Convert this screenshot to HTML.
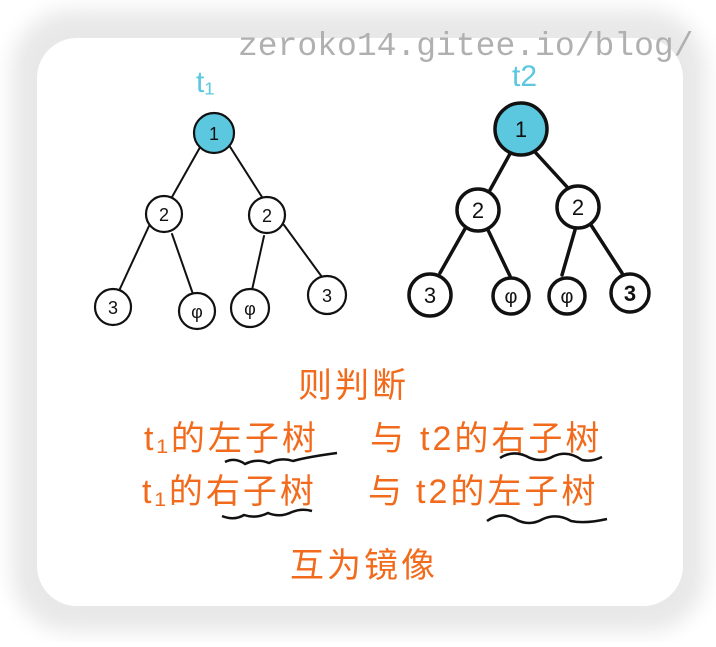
<!DOCTYPE html>
<html><head><meta charset="utf-8"><style>
html,body{margin:0;padding:0;background:#fff;}
body{width:716px;height:642px;overflow:hidden;}
</style></head><body>
<svg width="716" height="642" viewBox="0 0 716 642" xmlns="http://www.w3.org/2000/svg">
<defs><filter id="b" x="-10%" y="-10%" width="120%" height="120%"><feGaussianBlur stdDeviation="10"/></filter></defs>
<rect x="0" y="0" width="716" height="642" fill="#fff"/>
<rect x="12" y="10" width="694" height="622" rx="60" fill="#e8e8e8" filter="url(#b)"/>
<rect x="37" y="38" width="646" height="568" rx="40" fill="#fff"/>
<text x="238" y="55" font-family="Liberation Mono, monospace" font-size="33" fill="#b0b0b0">zeroko14.gitee.io/blog/</text>
<g font-family="Liberation Sans, sans-serif" fill="#5bc8e0" font-size="30">
<text x="196" y="92">t₁</text><text x="512" y="86">t2</text></g>
<g stroke="#111" stroke-width="2" fill="none" stroke-linecap="round">
<line x1="203" y1="142" x2="172" y2="197"/><line x1="227" y1="142" x2="262" y2="197"/>
<line x1="149" y1="226" x2="118" y2="293"/><line x1="172" y1="234" x2="194" y2="297"/>
<line x1="264" y1="236" x2="252" y2="290"/><line x1="284" y1="225" x2="322" y2="277"/>
<g stroke-width="3.5">
<line x1="511" y1="152" x2="490" y2="190"/><line x1="535" y1="152" x2="568" y2="188"/>
<line x1="466" y1="227" x2="440" y2="273"/><line x1="488" y1="230" x2="510" y2="276"/>
<line x1="575" y1="230" x2="562" y2="275"/><line x1="591" y1="225" x2="622" y2="273"/></g>
</g>
<g stroke="#111" fill="#fff" stroke-width="2.2">
<circle cx="214" cy="133" r="20" fill="#5bc8e0"/>
<circle cx="164" cy="214" r="18"/><circle cx="267" cy="215" r="18"/>
<circle cx="113" cy="307" r="18"/><circle cx="197" cy="311" r="18"/><circle cx="250" cy="308" r="19"/><circle cx="327" cy="295" r="19"/>
<g stroke-width="3.5">
<circle cx="521" cy="129" r="26" fill="#5bc8e0"/>
<circle cx="478" cy="210" r="21"/><circle cx="578" cy="207" r="21"/>
<circle cx="430" cy="295" r="21"/><circle cx="511" cy="296" r="18"/><circle cx="567" cy="296" r="18"/><circle cx="630" cy="293" r="19"/></g>
</g>
<g font-family="Liberation Sans, sans-serif" font-size="18" fill="#111" text-anchor="middle">
<text x="214" y="140">1</text><text x="164" y="221">2</text><text x="267" y="222">2</text>
<text x="113" y="314">3</text><text x="197" y="318">φ</text><text x="250" y="315">φ</text><text x="327" y="302">3</text>
<text x="521" y="137" font-size="22">1</text><text x="478" y="218" font-size="22">2</text><text x="578" y="215" font-size="22">2</text>
<text x="430" y="303" font-size="22">3</text><text x="511" y="303" font-size="20">φ</text><text x="567" y="303" font-size="20">φ</text><text x="630" y="301" font-size="22" font-weight="bold">3</text>
</g>
<g font-family="Liberation Sans, 'Noto Sans CJK SC', sans-serif" fill="#f26a1b" font-size="34" letter-spacing="3">
<text x="298" y="397">则判断</text>
<text x="144" y="450">t₁的左子树</text><text x="370" y="450">与</text><text x="420" y="450">t2的右子树</text>
<text x="142" y="503">t₁的右子树</text><text x="368" y="503">与</text><text x="416" y="503">t2的左子树</text>
<text x="290" y="577">互为镜像</text>
</g>
<g stroke="#111" stroke-width="2.5" fill="none">
<path d="M225 462 q10 -5 20 2 q12 -6 24 -1 q12 -6 24 -2 q14 -4 44 -8"/>
<path d="M500 458 q12 -8 26 -2 q14 8 28 0 q14 -6 28 4 q10 2 20 -3"/>
<path d="M222 516 q12 5 22 -1 q12 4 24 -2 q12 5 24 -1 q10 -4 20 -1"/>
<path d="M487 521 q14 -10 28 -2 q14 8 28 0 q14 -6 28 2 q14 3 36 -2"/>
</g>
</svg>
</body></html>
